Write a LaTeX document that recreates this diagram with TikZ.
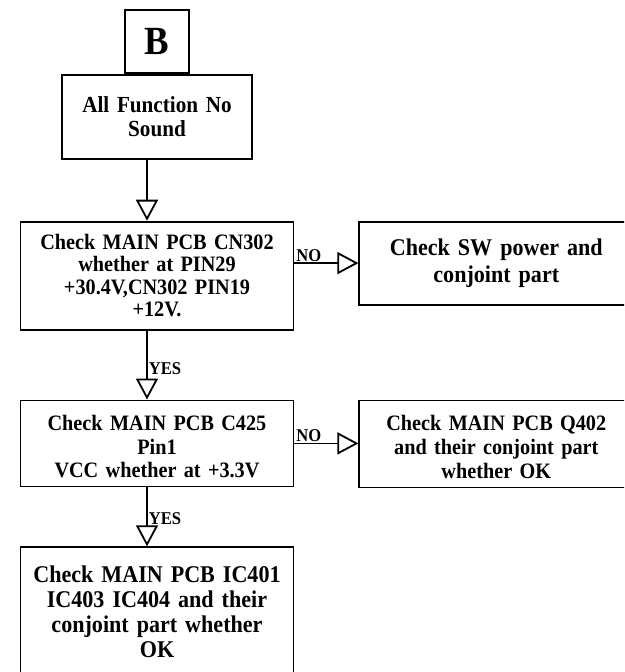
\documentclass[tikz,border=0pt]{standalone}
\usepackage{fontspec}
\setmainfont{Liberation Serif}[FakeStretch=0.92]
\usetikzlibrary{positioning,arrows.meta}

\begin{document}
\begin{tikzpicture}[x=1pt, y=-1pt, node distance=65pt,
    box/.style={draw, line width=1.8pt, align=center, text width=240pt, inner xsep=16.5pt,
        font=\fontsize{22}{22.5}\selectfont\bfseries},
    side/.style={box, text width=230pt, inner xsep=22pt},
    flow/.style={line width=1.8pt, -{Triangle[open, length=21pt, width=22pt]}},
    lbl/.style={inner sep=1pt, font=\fontsize{18}{18}\selectfont\bfseries}]
    \useasboundingbox (0,0) rectangle (624,672);
    \clip (0,0) rectangle (624,672);

    \node [draw, line width=1.8pt, minimum width=64pt, minimum height=63pt,
        font=\fontsize{40}{40}\selectfont\bfseries] (B) at (157,41.5) {B};
    \node [box, below=0pt of B, text width=170pt, inner xsep=10pt, minimum height=84pt,
        font=\fontsize{23}{24}\selectfont\bfseries] (fn) {All Function No\\Sound};
    \node [box, below=61pt of fn, minimum height=108pt] (cn) {Check MAIN PCB CN302\\whether at PIN29\\+30.4V,CN302 PIN19\\+12V.};
    \node [side, right=64pt of cn.north east, anchor=north west, minimum height=83pt,
        font=\fontsize{24}{27}\selectfont\bfseries] (sw) {Check SW power and\\conjoint part};
    \node [box, below=69pt of cn, minimum height=86pt, font=\fontsize{22}{23.5}\selectfont\bfseries] (cv) {\rule{0pt}{22pt}Check MAIN PCB C425\\Pin1\\VCC whether at +3.3V};
    \node [side, right=64pt of cv.north east, anchor=north west, minimum height=87pt,
        font=\fontsize{22}{24}\selectfont\bfseries] (q) {\rule{0pt}{22pt}Check MAIN PCB Q402\\and their conjoint part\\whether OK};
    \node [box, below=59pt of cv, text width=250pt, inner xsep=11.5pt, minimum height=130pt,
        font=\fontsize{24}{25}\selectfont\bfseries] (ic) {Check MAIN PCB IC401\\IC403 IC404 and their\\conjoint part whether\\OK};

    \draw [flow] ([xshift=-10pt]fn.south) -- ([xshift=-10pt]fn.south |- cn.north);
    \draw [flow] ([xshift=-10pt]cn.south) -- node [lbl, pos=0.67, anchor=south west] {YES} ([xshift=-10pt]cn.south |- cv.north);
    \draw [flow] ([xshift=-10pt]cv.south) -- node [lbl, pos=0.66, anchor=south west] {YES} ([xshift=-10pt]cv.south |- ic.north);
    \draw [flow] (cn.east |- sw.west) -- node [lbl, pos=0, anchor=south west] {NO} (sw.west);
    \draw [flow] (cv.east) -- node [lbl, pos=0, anchor=south west] {NO} (cv.east -| q.west);
\end{tikzpicture}
\end{document}
